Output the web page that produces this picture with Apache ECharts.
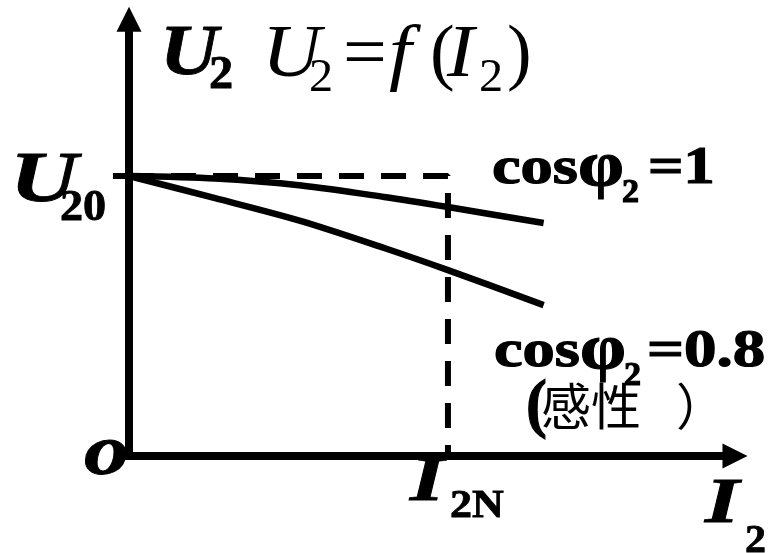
<!DOCTYPE html>
<html>
<head>
<meta charset="utf-8">
<script src="https://cdn.jsdelivr.net/npm/echarts@6/dist/echarts.min.js"></script>
<style>
  html, body { margin: 0; padding: 0; background: #fff; }
  #chart { width: 772px; height: 553px; }
</style>
</head>
<body>
<div id="chart"></div>
<script>
// Load current I2 (per unit of rated current I2N)
const current = [0, 0.27, 0.54, 0.8, 1.0, 1.3];
// Secondary voltage U2 (per unit of no-load voltage U20)
const voltPF1 = [1.0, 0.991, 0.966, 0.925, 0.889, 0.832];
const voltPF08 = [1.0, 0.921, 0.839, 0.743, 0.664, 0.539];
// Reference guide: U20 level across to I2N, then down to the axis
const guideX = [0, 1, 1];
const guideY = [1, 1, 0];
// Marked axis values
const yMarks = [1];

const SERIF = '"Liberation Serif", "Times New Roman", serif';
const CJK = '"Noto Sans CJK SC", sans-serif';

function pairs(xs, ys) { return xs.map((x, i) => [x, ys[i]]); }

// Text placed by its left edge and its baseline
function txt(text, left, base, size, weight, italic, extra) {
  extra = extra || {};
  const family = extra.family || SERIF;
  const k = extra.k || 0.3375;
  const style = {
    text: text,
    x: 0, y: 0,
    font: (italic ? 'italic ' : '') + (weight || 'normal') + ' ' + size + 'px ' + family,
    fill: '#000',
    textAlign: 'left',
    verticalAlign: 'middle',
    textVerticalAlign: 'middle'
  };
  if (extra.heavy) {
    style.stroke = '#000';
    style.lineWidth = extra.heavy;
  }
  if (extra.shadow) {
    style.shadowColor = 'rgba(0,0,0,0.35)';
    style.shadowOffsetX = 2;
    style.shadowOffsetY = 2;
    style.shadowBlur = 1;
  }
  return {
    type: 'text',
    x: left,
    y: base - k * size,
    scaleX: extra.sx || 1,
    z: extra.z || 10,
    style: style
  };
}

const chart = echarts.init(document.getElementById('chart'), null, { renderer: 'canvas' });

const axisCommon = {
  type: 'value',
  min: 0,
  splitLine: { show: false },
  axisLabel: { show: false },
  axisLine: {
    show: true,
    onZero: false,
    symbol: ['none', 'triangle'],
    symbolSize: [25, 25],
    lineStyle: { color: '#000', width: 8, cap: 'square' }
  }
};

const lbl = (sx, z) => ({ shadow: true, heavy: 1.2, sx: sx, z: z });
const sym = (sx) => ({ heavy: 0.8, sx: sx });

chart.setOption({
  animation: false,
  backgroundColor: '#fff',
  grid: { left: 129, right: 37, top: 19.2, bottom: 97, containLabel: false },
  xAxis: Object.assign({}, axisCommon, {
    max: 1.9,
    axisTick: { show: false }
  }),
  yAxis: Object.assign({}, axisCommon, {
    max: 1.56,
    axisTick: {
      show: true,
      customValues: yMarks,
      length: 16,
      lineStyle: { color: '#000', width: 6 }
    }
  }),
  series: [
    {
      type: 'line',
      data: pairs(guideX, guideY),
      showSymbol: false,
      lineStyle: { color: '#000', width: 6, type: [25, 17] },
      z: 2
    },
    {
      type: 'line',
      data: pairs(current, voltPF1),
      smooth: 0.3,
      showSymbol: false,
      lineStyle: { color: '#000', width: 6.5 },
      z: 3
    },
    {
      type: 'line',
      data: pairs(current, voltPF08),
      smooth: 0.3,
      showSymbol: false,
      lineStyle: { color: '#000', width: 6.5 },
      z: 3
    }
  ],
  graphic: [
    // vertical axis name and the function label
    txt('U', 160, 80, 72, 'bold', true, sym(1.12)),
    txt('2', 209, 92, 46, 'bold', false, sym(1.05)),
    txt('U', 262, 82, 74, 'normal', true, { sx: 1.1 }),
    txt('2', 309, 94, 46, 'normal', false, { sx: 1.05 }),
    txt('=', 343, 82, 74, 'normal', false, { sx: 1.05 }),
    txt('f', 389, 82, 74, 'normal', true, { sx: 1.1 }),
    txt('(', 430, 82, 74, 'normal', false),
    txt('I', 447, 82, 74, 'normal', true, { sx: 1.1 }),
    txt('2', 479, 94, 46, 'normal', false, { sx: 1.05 }),
    txt(')', 507, 82, 74, 'normal', false),
    // U20 level
    txt('U', 10, 207, 71, 'bold', true, sym(1.32)),
    txt('20', 60, 223, 44, 'bold', false, sym(1.05)),
    // origin
    txt('o', 84, 480, 72, 'bold', true, sym(1.25)),
    // rated current
    txt('I', 410, 505, 63, 'bold', true, sym(1.4)),
    txt('2N', 450, 520, 40, 'bold', false, sym(1.1)),
    // horizontal axis name
    txt('I', 705, 527, 63, 'bold', true, sym(1.4)),
    txt('2', 745, 555, 40, 'bold', false, sym(1.05)),
    // power factor labels
    txt('cos', 492, 187, 52, 'bold', false, lbl(1.24)),
    txt('\u03c6', 578, 190, 64, 'bold', false, lbl(1.15)),
    txt('2', 622, 205, 34, 'bold', false, lbl(1.0, 11)),
    txt('=1', 648, 187, 52, 'bold', false, lbl(1.2)),
    txt('cos', 494, 370, 52, 'bold', false, lbl(1.24)),
    txt('\u03c6', 580, 373, 64, 'bold', false, lbl(1.15)),
    txt('2', 624, 388, 34, 'bold', false, lbl(1.0, 11)),
    txt('=0.8', 647, 370, 52, 'bold', false, lbl(1.25)),
    txt('(', 526, 430, 66, 'bold', false, lbl(0.95)),
    txt('感性', 541, 425, 50, 'normal', false, { family: CJK, k: 0.38, shadow: true }),
    txt('）', 676, 425, 50, 'normal', false, { family: CJK, k: 0.38, shadow: true })
  ]
});
</script>
</body>
</html>
